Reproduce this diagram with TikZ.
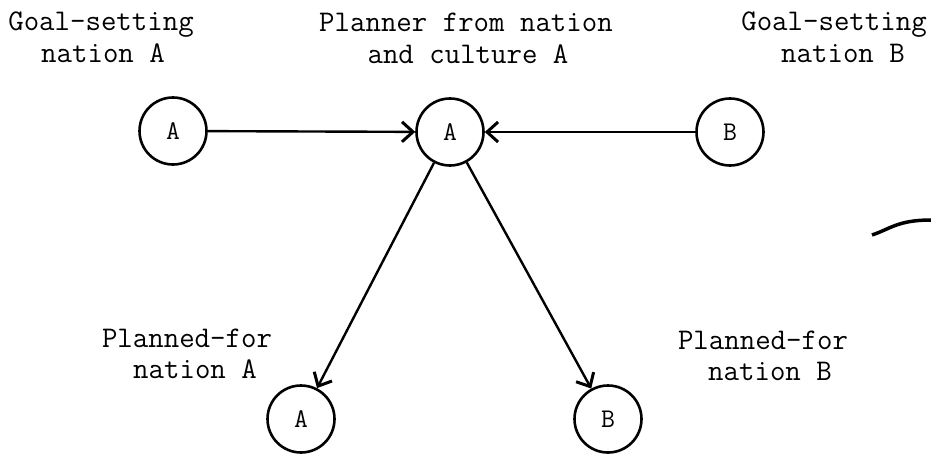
\documentclass[tikz,border=0pt]{standalone}
\usetikzlibrary{arrows.meta}
\begin{document}
\begin{tikzpicture}[x=1pt,y=-1pt,
  state/.style={circle, draw, line width=2.6pt, minimum size=67pt, inner sep=0pt,
    font=\ttfamily\fontsize{27}{27}\selectfont},
  lbl/.style={anchor=base, inner sep=0pt, font=\ttfamily\fontsize{30}{33}\selectfont},
  conn/.style={line width=2.4pt, -{Straight Barb[length=11pt,width=20pt,line width=3pt]}}]
\useasboundingbox (0,0) rectangle (931,465);
\fill[white] (0,0) rectangle (931,465);
% circles
\node[state] (ga) at (173,131) {A};
\node[state] (pa) at (450,132) {A};
\node[state] (gb) at (730,132) {B};
\node[state] (fa) at (301,419) {A};
\node[state] (fb) at (608,419) {B};
% labels
\node[lbl] (gsa1) at (101,31) {Goal-setting};
\node[lbl] (gsa2) at (103,63) {nation A};
\node[lbl] (pl1) at (466,32) {Planner from nation};
\node[lbl] (pl2) at (468,64) {and culture A};
\node[lbl] (gsb1) at (834,31) {Goal-setting};
\node[lbl] (gsb2) at (843,63) {nation B};
\node[lbl] (pfa1) at (187,347) {Planned-for};
\node[lbl] (pfa2) at (195,378) {nation A};
\node[lbl] (pfb1) at (763,349) {Planned-for};
\node[lbl] (pfb2) at (770,380) {nation B};
% connectors
\draw[conn] (ga) -- (pa);
\draw[conn] (gb) -- (pa);
\draw[conn] (pa) -- (fa);
\draw[conn] (pa) -- (fb);
% stray mark at right edge
\draw[line width=3.5pt] (872,235) .. controls (890,229) and (898,220) .. (931,220);
\end{tikzpicture}
\end{document}
